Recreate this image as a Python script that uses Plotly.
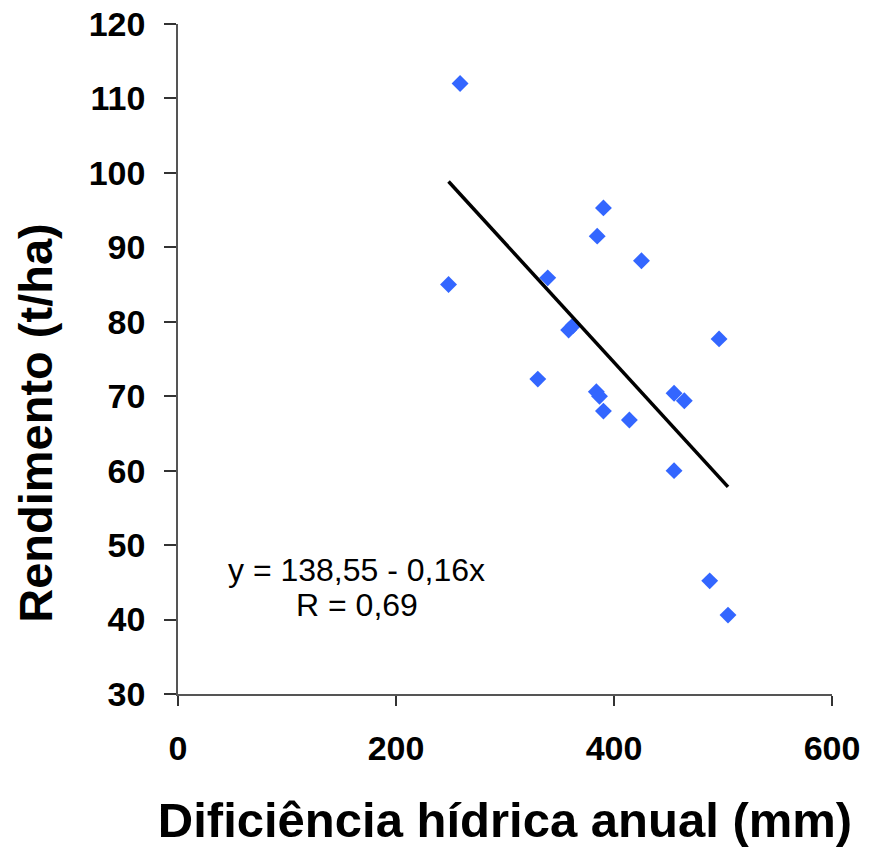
import numpy as np
import plotly.graph_objects as go

# Annual water deficit (mm) and yield (t/ha)
deficit = [258.8, 248.2, 390.3, 384.6, 425.2, 339.2, 358.4, 362.5, 496.4, 330.1,
           383.8, 386.7, 390.3, 414.1, 455.1, 464.5, 455.1, 487.8, 504.6]
yield_tha = [112.0, 85.0, 95.3, 91.5, 88.2, 85.9, 78.9, 79.5, 77.7, 72.3,
             70.6, 70.0, 68.0, 66.8, 70.4, 69.4, 60.0, 45.2, 40.6]

# Linear fit reported on the chart
intercept = 138.55
slope = -0.16
r_value = 0.69

x_ticks = [0, 200, 400, 600]
y_ticks = [30, 40, 50, 60, 70, 80, 90, 100, 110, 120]

font_family = "Liberation Sans, Arial, sans-serif"

fig = go.Figure()

fig.add_trace(go.Scatter(
    x=deficit, y=yield_tha, mode="markers",
    marker=dict(symbol="diamond", size=13, color="#3366FF", line=dict(width=0)),
    showlegend=False,
))

x_line = np.array([min(deficit), max(deficit)])
fig.add_trace(go.Scatter(
    x=x_line, y=intercept + slope * x_line, mode="lines",
    line=dict(color="black", width=3.5), showlegend=False,
))

eq_text = f"y = {intercept:.2f} - {abs(slope):.2f}x".replace(".", ",")
r_text = f"R = {r_value:.2f}".replace(".", ",")
for txt, ypos in [(eq_text, 46.7), (r_text, 41.9)]:
    fig.add_annotation(
        x=164, y=ypos, xref="x", yref="y", text=txt,
        showarrow=False, align="center",
        font=dict(family=font_family, size=32, color="black"),
    )

# Y-axis title, placed a little below the middle of the axis
fig.add_annotation(
    x=-0.218, y=0.404, xref="paper", yref="paper",
    xanchor="center", yanchor="middle", textangle=-90,
    text="<b>Rendimento (t/ha)</b>", showarrow=False,
    font=dict(family=font_family, size=47, color="black"),
)

fig.update_layout(
    width=871, height=847,
    margin=dict(l=178, r=39, t=24, b=153),
    paper_bgcolor="white", plot_bgcolor="white",
    font=dict(family=font_family, color="black"),
)

fig.update_xaxes(
    range=[0, 600], tickvals=x_ticks, ticktext=[str(v) for v in x_ticks],
    showgrid=False, zeroline=False, automargin=False,
    showline=True, linecolor="#555555", linewidth=1.5,
    ticks="outside", ticklen=10, tickcolor="#333333", tickwidth=1.5,
    tickfont=dict(family=font_family, size=34, color="black", weight="bold"),
    ticklabelstandoff=13,
    title=dict(text="<b>Dificiência hídrica anual (mm)</b>",
               font=dict(family=font_family, size=49, color="black"), standoff=38),
)

fig.update_yaxes(
    range=[30, 120], tickvals=y_ticks, ticktext=[str(v) for v in y_ticks],
    showgrid=False, zeroline=False, automargin=False,
    showline=True, linecolor="#555555", linewidth=1.5,
    ticks="outside", ticklen=12, tickcolor="#333333", tickwidth=1.5,
    tickfont=dict(family=font_family, size=34, color="black", weight="bold"),
    ticklabelstandoff=12,
)

fig.write_html("out.html")
